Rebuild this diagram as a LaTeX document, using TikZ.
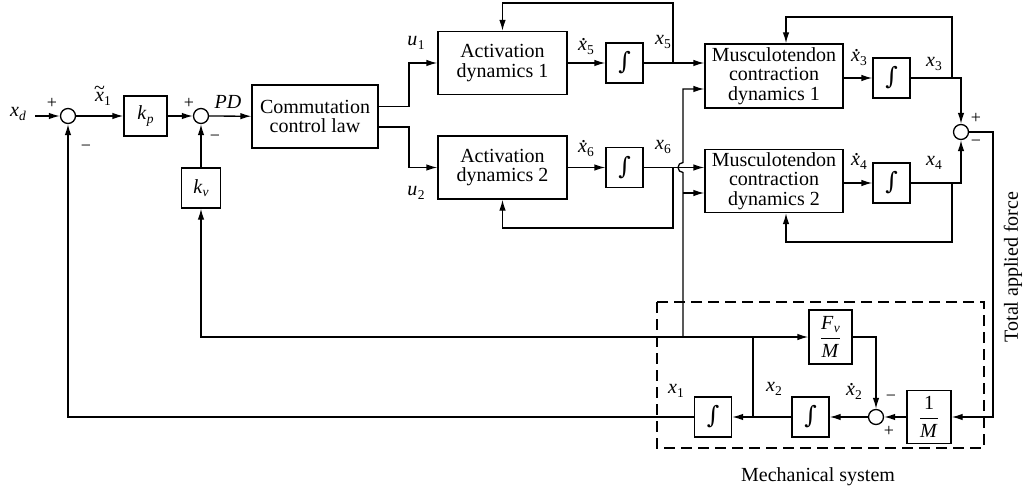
\documentclass[tikz,border=0pt]{standalone}
\usepackage{fontspec}
\setmainfont{Liberation Serif}
\newfontfamily\symfont{DejaVu Serif}
\usetikzlibrary{arrows.meta,calc}
\newcommand\sv[2]{\textit{#1}\kern0.3pt\raisebox{-0.35ex}{\fontsize{13.5}{13.5}\selectfont #2}}
\newcommand\dx[1]{\ooalign{\textit{x}\cr\hidewidth\kern0.12em\raisebox{0.5em}{.}\hidewidth\cr}\kern0.3pt\raisebox{-0.35ex}{\fontsize{13.5}{13.5}\selectfont #1}}
\newcommand\tx[1]{\ooalign{\textit{x}\cr\hidewidth\raisebox{0.38em}{\textasciitilde}\hidewidth\cr}\kern0.3pt\raisebox{-0.35ex}{\fontsize{13.5}{13.5}\selectfont #1}}
\newcommand\intg{{\symfont\fontsize{24}{24}\selectfont ∫}}
\begin{document}
\begin{tikzpicture}[x=1pt,y=-1pt,line width=1.3pt,
  font=\fontsize{20}{19.5}\selectfont,
  arr/.style={-{Latex[length=11pt,width=6.5pt]}},
  blk/.style={draw,inner sep=0pt,align=center},
  integ/.style={draw,inner sep=0pt,minimum width=37pt,minimum height=40pt},
  sumc/.style={draw,circle,inner sep=0pt,minimum size=15pt},
  lbl/.style={inner sep=0pt},
  sgn/.style={inner sep=0pt,font=\fontsize{18}{18}\selectfont}]
\useasboundingbox (0,0) rectangle (1025,492);

% blocks
\node[sumc] (s1) at (68,116) {};
\node[blk,minimum width=43pt,minimum height=40pt] (kp) at (145.5,116) {\sv{k}{\textit{p}}};
\node[sumc] (s2) at (201,116) {};
\node[blk,minimum width=39pt,minimum height=40pt] (kv) at (201,188) {\sv{k}{\textit{v}}};
\node[blk,minimum width=126pt,minimum height=63pt] (comm) at (315,116.5) {Commutation\\control law};
\node[blk,minimum width=129pt,minimum height=63pt] (act1) at (502.5,63) {Activation\\dynamics 1};
\node[blk,minimum width=129pt,minimum height=63pt] (act2) at (502.5,167.5) {Activation\\dynamics 2};
\node[integ] (i5) at (624.5,63) {\intg};
\node[integ] (i6) at (624.5,167.5) {\intg};
\node[blk,minimum width=138pt,minimum height=64pt] (mt1) at (774,76) {Musculotendon\\contraction\\dynamics 1};
\node[blk,minimum width=138pt,minimum height=63pt] (mt2) at (774,181) {Musculotendon\\contraction\\dynamics 2};
\node[integ] (i3) at (891.5,78) {\intg};
\node[integ] (i4) at (891.5,183) {\intg};
\node[sumc] (s3) at (961,132) {};
\node[blk,minimum width=43pt,minimum height=54pt] (fvm) at (830.5,337) {$\displaystyle\frac{\mbox{\sv{F}{\textit{v}}}}{\mbox{\textit{M}}}$};
\node[blk,minimum width=44pt,minimum height=53pt] (om) at (929,417) {$\displaystyle\frac{\mbox{1}}{\mbox{\textit{M}}}$};
\node[integ] (i2) at (810.5,417) {\intg};
\node[integ] (i1) at (713,417) {\intg};
\node[sumc] (s4) at (876,417) {};

% mechanical system frame
\draw[line width=1.2pt,dash pattern=on 11pt off 6pt] (657,302) rectangle (984,448);

% coordinates
\coordinate (xin) at (35,116);
\coordinate (co1) at (378,106.5);
\coordinate (co2) at (378,127);
\coordinate (j5) at (673,63);
\coordinate (j6) at (673,167.5);
\coordinate (v1) at (683,337);
\coordinate (j3) at (952,78);
\coordinate (j4) at (952,183);
\coordinate (j2) at (753,417);
\coordinate (j2u) at (753,337);

% connectors
\draw[arr] (xin) -- (s1);
\draw[arr] (s1) -- (kp);
\draw[arr] (kp) -- (s2);
\draw[arr] (s2) -- (comm);
\draw[arr] (kv) -- (s2);
\draw[arr] (co1) -- ++(31,0) |- (act1.west);
\draw[arr] (co2) -- ++(31,0) |- (act2.west);
\draw[arr] (act1) -- (i5);
\draw[arr] (act2) -- (i6);
\draw[arr] (i5.east) -- (i5.east -| mt1.west);
\draw[arr] (i6.east) -- (i6.east -| mt2.west);
\draw[arr] (j5) -- ++(0,-60) -| (act1.north);
\draw[arr] (j6) -- ++(0,60.5) -| (act2.south);
\draw[arr] (v1) -- (683,172.5) arc[start angle=270,end angle=90,radius=5pt] -- (683,89) -- ($(mt1.west)+(0,13)$);
\draw[arr] (683,193) -- ($(mt2.west)+(0,12)$);
\draw[arr] (mt1.east |- i3) -- (i3);
\draw[arr] (mt2.east |- i4) -- (i4);
\draw[arr] (i3) -| (s3);
\draw[arr] (i4) -| (s3);
\draw[arr] (j3) -- ++(0,-61) -| ([xshift=12pt]mt1.north);
\draw[arr] (j4) -- ++(0,59) -| ([xshift=12pt]mt2.south);
\draw[arr] (s3) -- (993,132) |- (om);
\draw[arr] (om) -- (s4);
\draw[arr] (fvm) -| (s4);
\draw[arr] (s4) -- (i2);
\draw[arr] (i2) -- (i1);
\draw[arr] (i1) -| (s1);
\draw[arr] (j2) -- (j2u) -- (fvm);
\draw[arr] (j2u) -| (kv);

% labels
\node[lbl] (lxd) at (18,114) {\sv{x}{\textit{d}}};
\node[sgn] at (52,103) {+};
\node[sgn] at (86,148) {−};
\node[lbl] (lx1t) at (103,99) {\tx{1}};
\node[sgn] at (189,103) {+};
\node[sgn] at (215,138) {−};
\node[lbl] (lpd) at (228,102) {\textit{PD}};
\node[lbl] (lu1) at (416,43) {\sv{u}{1}};
\node[lbl] (lu2) at (416,193) {\sv{u}{2}};
\node[lbl] (ldx5) at (586,48) {\dx{5}};
\node[lbl] (lx5) at (663,42) {\sv{x}{5}};
\node[lbl] (ldx6) at (586,150) {\dx{6}};
\node[lbl] (lx6) at (663,147) {\sv{x}{6}};
\node[lbl] (ldx3) at (859,59) {\dx{3}};
\node[lbl] (lx3) at (934,64) {\sv{x}{3}};
\node[lbl] (ldx4) at (859,163) {\dx{4}};
\node[lbl] (lx4) at (934,163) {\sv{x}{4}};
\node[sgn] at (976,118) {+};
\node[sgn] at (976,143) {−};
\node[lbl,rotate=90] (ltaf) at (1013,267) {Total applied force};
\node[lbl] (lx1) at (676,391) {\sv{x}{1}};
\node[lbl] (lx2) at (774,389) {\sv{x}{2}};
\node[lbl] (ldx2) at (854,393) {\dx{2}};
\node[sgn] at (891,398) {−};
\node[sgn] at (889,431) {+};
\node[lbl] (lmech) at (818,477) {Mechanical system};
\end{tikzpicture}
\end{document}
